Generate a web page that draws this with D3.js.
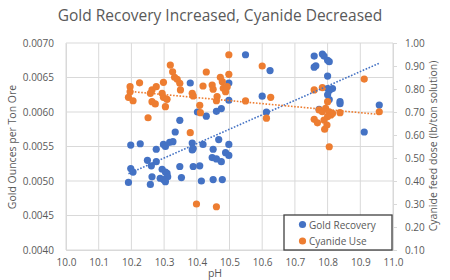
<!DOCTYPE html>
<html>
<head>
<meta charset="utf-8">
<script src="https://cdn.jsdelivr.net/npm/d3@7"></script>
<style>
  body { margin: 0; background: #fff; }
  text { font-family: "Open Sans", "Liberation Sans", sans-serif; fill: #595959; }
</style>
</head>
<body>
<div id="chart"></div>
<script>
// gold recovery series (left axis)
var goldPH = [10.549, 10.624, 10.380, 10.498, 10.498, 10.600, 10.613, 10.402, 10.429, 10.460,
  10.475, 10.348, 10.334, 10.198, 10.227, 10.276, 10.298, 10.304, 10.317, 10.327,
  10.386, 10.389, 10.386, 10.419, 10.467, 10.498, 10.450, 10.488, 10.498, 10.249,
  10.276, 10.261, 10.447, 10.460, 10.475, 10.198, 10.205, 10.294, 10.304, 10.309,
  10.311, 10.348, 10.389, 10.409, 10.263, 10.288, 10.298, 10.304, 10.353, 10.191,
  10.258, 10.414, 10.450, 10.478, 10.759, 10.764, 10.759, 10.784, 10.789, 10.800,
  10.805, 10.800, 10.800, 10.815, 10.805, 10.800, 10.805, 10.838, 10.838, 10.958,
  10.774, 10.912]
var goldOz = [0.00683, 0.00660, 0.00642, 0.00642, 0.00617, 0.00623, 0.00600, 0.00600, 0.00594, 0.00601,
  0.00605, 0.00588, 0.00571, 0.00552, 0.00554, 0.00546, 0.00553, 0.00550, 0.00556, 0.00557,
  0.00555, 0.00547, 0.00545, 0.00553, 0.00560, 0.00553, 0.00546, 0.00541, 0.00537, 0.00530,
  0.00528, 0.00522, 0.00534, 0.00532, 0.00528, 0.00518, 0.00513, 0.00517, 0.00513, 0.00511,
  0.00506, 0.00521, 0.00521, 0.00522, 0.00506, 0.00504, 0.00502, 0.00499, 0.00505, 0.00498,
  0.00495, 0.00500, 0.00502, 0.00502, 0.00681, 0.00667, 0.00665, 0.00684, 0.00681, 0.00675,
  0.00673, 0.00652, 0.00634, 0.00634, 0.00631, 0.00625, 0.00618, 0.00615, 0.00612, 0.00610,
  0.00604, 0.00571]

// cyanide use series (right axis)
var cyanidePH = [10.498, 10.319, 10.326, 10.429, 10.332, 10.340, 10.348, 10.350, 10.225, 10.298,
  10.196, 10.196, 10.191, 10.205, 10.263, 10.258, 10.263, 10.273, 10.276, 10.294,
  10.298, 10.309, 10.386, 10.389, 10.419, 10.447, 10.450, 10.472, 10.478, 10.481,
  10.488, 10.493, 10.498, 10.462, 10.460, 10.409, 10.549, 10.600, 10.304, 10.251,
  10.380, 10.411, 10.399, 10.460, 10.613, 10.626, 10.759, 10.784, 10.912, 10.800,
  10.774, 10.784, 10.794, 10.805, 10.810, 10.815, 10.800, 10.789, 10.838, 10.958,
  10.759, 10.769, 10.798, 10.791, 10.805]
var cyanideDose = [0.949, 0.904, 0.875, 0.874, 0.851, 0.842, 0.825, 0.796, 0.827, 0.829,
  0.810, 0.788, 0.764, 0.749, 0.796, 0.781, 0.745, 0.735, 0.810, 0.781,
  0.764, 0.755, 0.781, 0.770, 0.813, 0.817, 0.799, 0.851, 0.832, 0.803,
  0.788, 0.810, 0.864, 0.767, 0.749, 0.729, 0.748, 0.900, 0.723, 0.675,
  0.610, 0.697, 0.300, 0.288, 0.673, 0.764, 0.796, 0.806, 0.843, 0.745,
  0.709, 0.701, 0.716, 0.701, 0.687, 0.694, 0.680, 0.665, 0.697, 0.701,
  0.668, 0.653, 0.643, 0.625, 0.549]

var xTicks = [10.0, 10.1, 10.2, 10.3, 10.4, 10.5, 10.6, 10.7, 10.8, 10.9, 11.0]
var leftTicks = [0.0040, 0.0045, 0.0050, 0.0055, 0.0060, 0.0065, 0.0070]
var rightTicks = [0.10, 0.20, 0.30, 0.40, 0.50, 0.60, 0.70, 0.80, 0.90, 1.00]
var seriesNames = ["Gold Recovery", "Cyanide Use"]
var colors = ["#4472C4", "#ED7D31"]

var W = 450, H = 280
var plot = {left: 66, right: 393, top: 43, bottom: 250}

var svg = d3.select("#chart").append("svg").attr("width", W).attr("height", H)

var x = d3.scaleLinear().domain([10.0, 11.0]).range([plot.left, plot.right])
var yL = d3.scaleLinear().domain([0.0040, 0.0070]).range([plot.bottom, plot.top])
var yR = d3.scaleLinear().domain([0.10, 1.00]).range([plot.bottom, plot.top])

// gridlines
svg.append("g").selectAll("line").data(leftTicks).enter().append("line")
    .attr("x1", plot.left).attr("x2", plot.right)
    .attr("y1", function(d) { return yL(d) }).attr("y2", function(d) { return yL(d) })
    .attr("stroke", "#d9d9d9").attr("stroke-width", 1)
svg.append("g").selectAll("line").data(xTicks).enter().append("line")
    .attr("x1", function(d) { return x(d) }).attr("x2", function(d) { return x(d) })
    .attr("y1", plot.top).attr("y2", plot.bottom)
    .attr("stroke", "#d9d9d9").attr("stroke-width", 1)

// axes
var xAxis = svg.append("g").attr("transform", "translate(0," + plot.bottom + ")")
    .call(d3.axisBottom(x).tickValues(xTicks).tickSize(0).tickPadding(9).tickFormat(d3.format(".1f")))
var leftAxis = svg.append("g").attr("transform", "translate(" + plot.left + ",0)")
    .call(d3.axisLeft(yL).tickValues(leftTicks).tickSize(0).tickPadding(12).tickFormat(d3.format(".4f")))
var rightAxis = svg.append("g").attr("transform", "translate(" + plot.right + ",0)")
    .call(d3.axisRight(yR).tickValues(rightTicks).tickSize(4).tickPadding(8).tickFormat(d3.format(".2f")))

;[xAxis, leftAxis, rightAxis].forEach(function(a) {
  a.select(".domain").attr("stroke", "#d9d9d9")
  a.selectAll(".tick line").attr("stroke", "#d9d9d9")
  a.selectAll("text").style("font-size", "10px").attr("fill", "#595959")
    .style("font-family", "'Open Sans', sans-serif")
})

// points
var goldPts = goldPH.map(function(p, i) { return {x: p, y: goldOz[i]} })
var cyPts = cyanidePH.map(function(p, i) { return {x: p, y: cyanideDose[i]} })

svg.append("g").selectAll("circle").data(goldPts).enter().append("circle")
    .attr("cx", function(d) { return x(d.x) })
    .attr("cy", function(d) { return yL(d.y) })
    .attr("r", 3.6)
    .attr("fill", colors[0])

svg.append("g").selectAll("circle").data(cyPts).enter().append("circle")
    .attr("cx", function(d) { return x(d.x) })
    .attr("cy", function(d) { return yR(d.y) })
    .attr("r", 3.6)
    .attr("fill", colors[1])

// linear trendlines (least squares)
function fit(pts) {
  var mx = d3.mean(pts, function(d) { return d.x }), my = d3.mean(pts, function(d) { return d.y })
  var sxy = d3.sum(pts, function(d) { return (d.x - mx) * (d.y - my) })
  var sxx = d3.sum(pts, function(d) { return (d.x - mx) * (d.x - mx) })
  var b = sxy / sxx, a = my - b * mx
  var ext = d3.extent(pts, function(d) { return d.x })
  return ext.map(function(v) { return {x: v, y: a + b * v} })
}

var lineL = d3.line().x(function(d) { return x(d.x) }).y(function(d) { return yL(d.y) })
var lineR = d3.line().x(function(d) { return x(d.x) }).y(function(d) { return yR(d.y) })

svg.append("path").attr("d", lineL(fit(goldPts)))
    .attr("stroke", colors[0]).attr("stroke-width", 1.6).attr("stroke-dasharray", "1.6,1.6")
    .attr("fill", "none")
svg.append("path").attr("d", lineR(fit(cyPts)))
    .attr("stroke", colors[1]).attr("stroke-width", 1.6).attr("stroke-dasharray", "1.6,1.6")
    .attr("fill", "none")

// title
svg.append("text").attr("x", 220).attr("y", 21).attr("text-anchor", "middle")
    .style("font-size", "15.5px").text("Gold Recovery Increased, Cyanide Decreased")

// axis titles
svg.append("text").attr("transform", "translate(16,147) rotate(-90)").attr("text-anchor", "middle")
    .style("font-size", "10.5px").text("Gold Ounces per Ton Ore")
svg.append("text").attr("transform", "translate(437,146) rotate(-90)").attr("text-anchor", "middle")
    .style("font-size", "10.5px").text("Cyanide feed dose (lb/ton solution)")
svg.append("text").attr("x", 215).attr("y", 277).attr("text-anchor", "middle")
    .style("font-size", "10.5px").text("pH")

// legend
var lg = svg.append("g").attr("transform", "translate(284,215)")
lg.append("rect").attr("width", 108).attr("height", 35)
    .attr("fill", "#fff").attr("stroke", "#404040").attr("stroke-width", 1.3)
seriesNames.forEach(function(name, i) {
  lg.append("circle").attr("cx", 18.5).attr("cy", 9.5 + i * 16.5).attr("r", 3.6).attr("fill", colors[i])
  lg.append("text").attr("x", 25).attr("y", 13.5 + i * 16.5).style("font-size", "10px").text(name)
})
</script>
</body>
</html>
